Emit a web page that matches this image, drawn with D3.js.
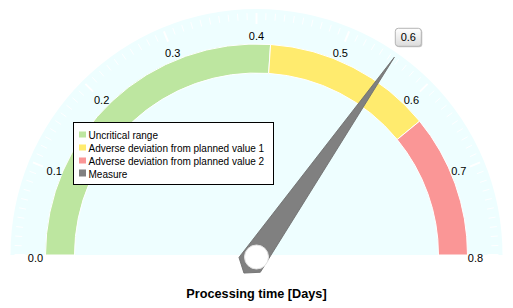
<!DOCTYPE html>
<html>
<head>
<meta charset="utf-8">
<script src="https://cdn.jsdelivr.net/npm/d3@7"></script>
<style>
  body { margin: 0; background: #fff; }
  text { font-family: Tahoma, "Liberation Sans", Arial, sans-serif; }
</style>
</head>
<body>
<div id="gauge"></div>
<script>
// gauge data
const scaleMin = 0
const scaleMax = 0.8
const tickLabels = ["0.0", "0.1", "0.2", "0.3", "0.4", "0.5", "0.6", "0.7", "0.8"]
const tickValues = [0, 0.1, 0.2, 0.3, 0.4, 0.5, 0.6, 0.7, 0.8]
const rangeNames = ["Uncritical range", "Adverse deviation from planned value 1", "Adverse deviation from planned value 2"]
const rangeStarts = [0, 0.417, 0.625]
const rangeEnds = [0.417, 0.625, 0.8]
const rangeColors = ["#bde6a0", "#ffeb6e", "#fa9696"]
const measureName = "Measure"
const measureValue = 0.555
const chartTitle = "Processing time [Days]"

var width = 513
var height = 308
var cx = 256.5, cy = 255
var outerR = 246, bandOuter = 211, bandInner = 182, labelR = 219

var svg = d3.select("#gauge")
    .append("svg")
    .attr("width", width)
    .attr("height", height)

var angle = d3.scaleLinear()
    .domain([scaleMin, scaleMax])
    .range([-Math.PI / 2, Math.PI / 2])

var g = svg.append("g")
    .attr("transform", "translate(" + cx + "," + cy + ")")

// background half disc
g.append("path")
    .attr("d", d3.arc()({ innerRadius: 0, outerRadius: outerR, startAngle: -Math.PI / 2, endAngle: Math.PI / 2 }))
    .style("fill", "#eefeff")

// scale ticks (white marks on the outer ring)
var minorTicks = d3.range(0, 81).map(i => i / 100)
g.selectAll(".tick")
    .data(minorTicks)
    .enter().append("line")
    .attr("class", "tick")
    .attr("x1", d => Math.sin(angle(d)) * (Math.round(d * 100) % 10 == 0 ? 231 : 235))
    .attr("y1", d => -Math.cos(angle(d)) * (Math.round(d * 100) % 10 == 0 ? 231 : 235))
    .attr("x2", d => Math.sin(angle(d)) * 242)
    .attr("y2", d => -Math.cos(angle(d)) * 242)
    .style("stroke", "#fff")
    .style("stroke-width", d => Math.round(d * 100) % 10 == 0 ? 2 : 1)

// coloured ranges
var band = d3.arc().innerRadius(bandInner).outerRadius(bandOuter)
g.selectAll(".range")
    .data(rangeNames)
    .enter().append("path")
    .attr("class", "range")
    .attr("d", (d, i) => band({ startAngle: angle(rangeStarts[i]), endAngle: angle(rangeEnds[i]) }))
    .style("fill", (d, i) => rangeColors[i])
    .style("stroke", "#fff")
    .style("stroke-width", 1)

// tick labels
g.selectAll(".tlabel")
    .data(tickValues)
    .enter().append("text")
    .attr("class", "tlabel")
    .attr("x", d => Math.sin(angle(d)) * labelR - (d == scaleMin ? 2 : 0))
    .attr("y", d => -Math.cos(angle(d)) * labelR + 4 + (Math.abs(Math.cos(angle(d))) < 0.2 ? 3 : 0))
    .attr("text-anchor", "middle")
    .attr("font-size", "11px")
    .style("fill", "#000")
    .text((d, i) => tickLabels[i])

// needle
var needleLen = 241
var needle = g.append("g")
    .attr("transform", "rotate(" + (angle(measureValue) * 180 / Math.PI) + ")")
needle.append("path")
    .attr("d", d3.line()([[0, -needleLen], [13, 12], [0, 22], [-13, 12]]) + "Z")
    .style("fill", "#808080")
    .style("stroke", "#6e6e6e")
    .style("stroke-width", 0.8)
g.append("circle")
    .attr("cx", 0)
    .attr("cy", 2)
    .attr("r", 12)
    .style("fill", "#fff")
    .style("stroke", "#e2e2e2")
    .style("stroke-width", 1)

// value box at the needle tip
var tipX = Math.sin(angle(measureValue)) * needleLen
var tipY = -Math.cos(angle(measureValue)) * needleLen
var defs = svg.append("defs")
var grad = defs.append("linearGradient")
    .attr("id", "boxGrad")
    .attr("x1", 0).attr("y1", 0).attr("x2", 0).attr("y2", 1)
grad.append("stop").attr("offset", "0%").attr("stop-color", "#ffffff")
grad.append("stop").attr("offset", "100%").attr("stop-color", "#dcdcdc")
var vbox = g.append("g")
    .attr("transform", "translate(" + (tipX + 1) + "," + (tipY - 29) + ")")
vbox.append("rect")
    .attr("x", 1).attr("y", 1)
    .attr("width", 26).attr("height", 18)
    .attr("rx", 3)
    .style("fill", "#c8c8c8")
vbox.append("rect")
    .attr("width", 26).attr("height", 18)
    .attr("rx", 3)
    .style("fill", "url(#boxGrad)")
    .style("stroke", "#b4b4b4")
vbox.append("text")
    .attr("x", 13).attr("y", 13)
    .attr("text-anchor", "middle")
    .attr("font-size", "11px")
    .text(d3.format(".1f")(measureValue))

// Legend
var legendItems = rangeNames.concat([measureName])
var legendColors = rangeColors.concat(["#808080"])
var legend = svg.append("g")
    .attr("transform", "translate(73.5,122.5)")
legend.append("rect")
    .attr("width", 200)
    .attr("height", 62)
    .style("fill", "#fff")
    .style("stroke", "#000")
var item = legend.selectAll(".legend")
    .data(legendItems)
    .enter().append("g")
    .attr("class", "legend")
    .attr("transform", (d, i) => "translate(0," + (12 + i * 13) + ")")
item.append("rect")
    .attr("x", 5.5)
    .attr("y", (d, i) => i == 3 ? -4 : -3)
    .attr("width", 7)
    .attr("height", (d, i) => i == 3 ? 7 : 6)
    .style("fill", (d, i) => legendColors[i])
item.append("text")
    .attr("x", 15)
    .attr("y", 4)
    .attr("font-size", "10px")
    .text(d => d)

// title
svg.append("text")
    .attr("x", cx)
    .attr("y", 298)
    .attr("text-anchor", "middle")
    .attr("font-size", "12.7px")
    .attr("font-weight", "bold")
    .text(chartTitle)
</script>
</body>
</html>
